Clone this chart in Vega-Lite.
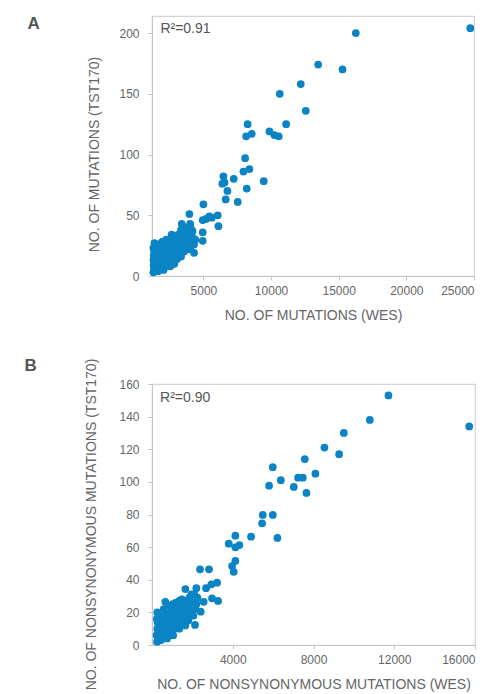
{
  "$schema": "https://vega.github.io/schema/vega-lite/v6.json",
  "background": "white",
  "padding": {"left": 23, "top": 14, "right": 5, "bottom": 0},
  "spacing": 33,
  "config": {
    "view": {"stroke": "#d4d4d4", "strokeWidth": 1.2},
    "font": "Liberation Sans",
    "axis": {
      "grid": false,
      "domainColor": "#c4c4c4",
      "tickColor": "#c4c4c4",
      "tickSize": 4,
      "labelColor": "#666666",
      "labelFontSize": 12,
      "labelFont": "Liberation Sans",
      "titleColor": "#666666",
      "titleFontSize": 14,
      "titleFontWeight": "normal",
      "titleFont": "Liberation Sans"
    }
  },
  "datasets": {
    "a": [
      {"wes": 24725, "tst": 204}, {"wes": 16265, "tst": 200}, {"wes": 13483, "tst": 174}, {"wes": 15280, "tst": 170},
      {"wes": 12196, "tst": 158}, {"wes": 10643, "tst": 150}, {"wes": 12566, "tst": 136}, {"wes": 8268, "tst": 125},
      {"wes": 11116, "tst": 125}, {"wes": 8157, "tst": 115}, {"wes": 8572, "tst": 117}, {"wes": 9881, "tst": 119},
      {"wes": 10251, "tst": 116}, {"wes": 10569, "tst": 115}, {"wes": 8083, "tst": 97}, {"wes": 8402, "tst": 88},
      {"wes": 7958, "tst": 86}, {"wes": 6479, "tst": 82}, {"wes": 6400, "tst": 76}, {"wes": 6560, "tst": 77},
      {"wes": 7241, "tst": 80}, {"wes": 9459, "tst": 78}, {"wes": 6775, "tst": 70}, {"wes": 8201, "tst": 72},
      {"wes": 6649, "tst": 63}, {"wes": 7536, "tst": 61}, {"wes": 5000, "tst": 59}, {"wes": 3964, "tst": 51},
      {"wes": 6057, "tst": 50}, {"wes": 5443, "tst": 49}, {"wes": 4948, "tst": 46}, {"wes": 5197, "tst": 47},
      {"wes": 5615, "tst": 48}, {"wes": 3395, "tst": 43}, {"wes": 4016, "tst": 43}, {"wes": 6109, "tst": 41},
      {"wes": 4948, "tst": 36}, {"wes": 4948, "tst": 29}, {"wes": 4310, "tst": 19}, {"wes": 3350, "tst": 16},
      {"wes": 1300, "tst": 3}, {"wes": 1350, "tst": 6}, {"wes": 1320, "tst": 9}, {"wes": 1400, "tst": 11},
      {"wes": 1310, "tst": 13}, {"wes": 1380, "tst": 15}, {"wes": 1330, "tst": 17}, {"wes": 1420, "tst": 19},
      {"wes": 1350, "tst": 21}, {"wes": 1300, "tst": 23}, {"wes": 1450, "tst": 25}, {"wes": 1380, "tst": 27},
      {"wes": 1500, "tst": 5}, {"wes": 1550, "tst": 8}, {"wes": 1480, "tst": 12}, {"wes": 1560, "tst": 16},
      {"wes": 1500, "tst": 20}, {"wes": 1580, "tst": 23}, {"wes": 1450, "tst": 4}, {"wes": 1600, "tst": 26},
      {"wes": 1650, "tst": 4}, {"wes": 1700, "tst": 7}, {"wes": 1750, "tst": 10}, {"wes": 1680, "tst": 13},
      {"wes": 1800, "tst": 15}, {"wes": 1720, "tst": 18}, {"wes": 1850, "tst": 20}, {"wes": 1780, "tst": 22},
      {"wes": 1900, "tst": 24}, {"wes": 1820, "tst": 26}, {"wes": 1950, "tst": 28}, {"wes": 1880, "tst": 12},
      {"wes": 1960, "tst": 17}, {"wes": 1700, "tst": 25}, {"wes": 1650, "tst": 21}, {"wes": 1900, "tst": 8},
      {"wes": 2050, "tst": 5}, {"wes": 2100, "tst": 9}, {"wes": 2150, "tst": 12}, {"wes": 2250, "tst": 14},
      {"wes": 2100, "tst": 17}, {"wes": 2300, "tst": 19}, {"wes": 2200, "tst": 21}, {"wes": 2400, "tst": 23},
      {"wes": 2050, "tst": 24}, {"wes": 2350, "tst": 26}, {"wes": 2450, "tst": 28}, {"wes": 2250, "tst": 30},
      {"wes": 2400, "tst": 10}, {"wes": 2150, "tst": 27}, {"wes": 2300, "tst": 8}, {"wes": 2480, "tst": 17},
      {"wes": 2000, "tst": 15}, {"wes": 2550, "tst": 8}, {"wes": 2650, "tst": 12}, {"wes": 2600, "tst": 15},
      {"wes": 2750, "tst": 18}, {"wes": 2700, "tst": 21}, {"wes": 2850, "tst": 23}, {"wes": 2600, "tst": 25},
      {"wes": 2900, "tst": 27}, {"wes": 2750, "tst": 29}, {"wes": 2950, "tst": 31}, {"wes": 2800, "tst": 33},
      {"wes": 2650, "tst": 34}, {"wes": 2900, "tst": 19}, {"wes": 2550, "tst": 22}, {"wes": 2950, "tst": 14},
      {"wes": 2850, "tst": 10}, {"wes": 3050, "tst": 14}, {"wes": 3150, "tst": 17}, {"wes": 3100, "tst": 21},
      {"wes": 3250, "tst": 24}, {"wes": 3200, "tst": 27}, {"wes": 3400, "tst": 29}, {"wes": 3050, "tst": 30},
      {"wes": 3300, "tst": 32}, {"wes": 3150, "tst": 34}, {"wes": 3450, "tst": 36}, {"wes": 3350, "tst": 38},
      {"wes": 3250, "tst": 20}, {"wes": 3450, "tst": 25}, {"wes": 3000, "tst": 25}, {"wes": 3550, "tst": 20},
      {"wes": 3650, "tst": 23}, {"wes": 3750, "tst": 27}, {"wes": 3600, "tst": 30}, {"wes": 3850, "tst": 32},
      {"wes": 3700, "tst": 34}, {"wes": 3900, "tst": 37}, {"wes": 3550, "tst": 36}, {"wes": 3800, "tst": 39},
      {"wes": 3950, "tst": 28}, {"wes": 3650, "tst": 40}, {"wes": 3900, "tst": 22}, {"wes": 4050, "tst": 24},
      {"wes": 4150, "tst": 28}, {"wes": 4250, "tst": 31}, {"wes": 4100, "tst": 34}, {"wes": 4300, "tst": 26},
      {"wes": 4200, "tst": 37}, {"wes": 4400, "tst": 30}, {"wes": 4050, "tst": 40}
    ],
    "b": [
      {"wes": 11714, "tst": 153}, {"wes": 10791, "tst": 138}, {"wes": 15714, "tst": 134}, {"wes": 9502, "tst": 130},
      {"wes": 8542, "tst": 121}, {"wes": 9270, "tst": 117}, {"wes": 7569, "tst": 114}, {"wes": 5983, "tst": 109},
      {"wes": 8096, "tst": 105}, {"wes": 6380, "tst": 101}, {"wes": 7237, "tst": 102.6}, {"wes": 7470, "tst": 102.6},
      {"wes": 5800, "tst": 97.7}, {"wes": 7024, "tst": 96.9}, {"wes": 7649, "tst": 93.2}, {"wes": 5487, "tst": 79.7},
      {"wes": 5983, "tst": 79.7}, {"wes": 5453, "tst": 74.6}, {"wes": 4907, "tst": 66.4}, {"wes": 6212, "tst": 65.6},
      {"wes": 4130, "tst": 67}, {"wes": 3801, "tst": 62.1}, {"wes": 4130, "tst": 59.9}, {"wes": 4328, "tst": 61.3},
      {"wes": 4130, "tst": 51.5}, {"wes": 3966, "tst": 48.4}, {"wes": 4048, "tst": 44.9}, {"wes": 2379, "tst": 46.4},
      {"wes": 2825, "tst": 46.4}, {"wes": 3222, "tst": 38.2}, {"wes": 2941, "tst": 37.2}, {"wes": 2677, "tst": 34.8},
      {"wes": 2197, "tst": 34.8}, {"wes": 3272, "tst": 27}, {"wes": 2974, "tst": 28.6}, {"wes": 2561, "tst": 26.5},
      {"wes": 2412, "tst": 20.4}, {"wes": 2131, "tst": 12.3}, {"wes": 1652, "tst": 34.3}, {"wes": 661, "tst": 26.5},
      {"wes": 250, "tst": 2}, {"wes": 300, "tst": 4}, {"wes": 230, "tst": 6}, {"wes": 320, "tst": 8},
      {"wes": 260, "tst": 10}, {"wes": 350, "tst": 12}, {"wes": 280, "tst": 14}, {"wes": 240, "tst": 16},
      {"wes": 330, "tst": 18}, {"wes": 260, "tst": 20}, {"wes": 380, "tst": 3}, {"wes": 400, "tst": 9},
      {"wes": 420, "tst": 15}, {"wes": 450, "tst": 3}, {"wes": 500, "tst": 6}, {"wes": 550, "tst": 9},
      {"wes": 480, "tst": 12}, {"wes": 600, "tst": 14}, {"wes": 520, "tst": 17}, {"wes": 650, "tst": 19},
      {"wes": 580, "tst": 22}, {"wes": 700, "tst": 5}, {"wes": 620, "tst": 11}, {"wes": 750, "tst": 4},
      {"wes": 800, "tst": 8}, {"wes": 850, "tst": 11}, {"wes": 780, "tst": 14}, {"wes": 900, "tst": 16},
      {"wes": 820, "tst": 19}, {"wes": 950, "tst": 21}, {"wes": 880, "tst": 24}, {"wes": 980, "tst": 7},
      {"wes": 920, "tst": 13}, {"wes": 1050, "tst": 6}, {"wes": 1100, "tst": 10}, {"wes": 1150, "tst": 13},
      {"wes": 1050, "tst": 16}, {"wes": 1200, "tst": 18}, {"wes": 1120, "tst": 21}, {"wes": 1250, "tst": 23},
      {"wes": 1180, "tst": 26}, {"wes": 1280, "tst": 15}, {"wes": 1020, "tst": 25}, {"wes": 1350, "tst": 10},
      {"wes": 1400, "tst": 13}, {"wes": 1450, "tst": 16}, {"wes": 1380, "tst": 19}, {"wes": 1500, "tst": 21},
      {"wes": 1420, "tst": 24}, {"wes": 1550, "tst": 26}, {"wes": 1480, "tst": 28}, {"wes": 1580, "tst": 18},
      {"wes": 1350, "tst": 27}, {"wes": 1650, "tst": 12}, {"wes": 1700, "tst": 16}, {"wes": 1750, "tst": 19},
      {"wes": 1680, "tst": 22}, {"wes": 1800, "tst": 24}, {"wes": 1720, "tst": 27}, {"wes": 1850, "tst": 29},
      {"wes": 1950, "tst": 31}, {"wes": 1900, "tst": 21}, {"wes": 1800, "tst": 15}, {"wes": 2000, "tst": 26},
      {"wes": 2050, "tst": 18}, {"wes": 2150, "tst": 22}, {"wes": 2250, "tst": 29}, {"wes": 2100, "tst": 31},
      {"wes": 2200, "tst": 25}
    ]
  },
  "vconcat": [
    {
      "width": 322,
      "height": 260,
      "layer": [
        {
          "data": {"name": "a"},
          "mark": {"type": "circle", "size": 60, "opacity": 1, "color": "#0b84c5"},
          "encoding": {
            "x": {"field": "wes", "type": "quantitative", "title": "NO. OF MUTATIONS (WES)",
                  "scale": {"domain": [1200, 25000], "nice": false, "zero": false},
                  "axis": {"values": [5000, 10000, 15000, 20000, 25000], "tickCount": 10, "labelPadding": 5, "titlePadding": 12, "format": "d", "labelOverlap": false}},
            "y": {"field": "tst", "type": "quantitative", "title": "NO. OF MUTATIONS (TST170)",
                  "scale": {"domain": [0, 214], "nice": false},
                  "axis": {"values": [0, 50, 100, 150, 200], "tickCount": 10, "labelPadding": 9, "titlePadding": 17, "titleY": 138, "labelOverlap": false}}
          }
        },
        {
          "data": {"values": [{"wes": 1820, "tst": 203.5, "label": "R²=0.91"}]},
          "mark": {"type": "text", "align": "left", "baseline": "middle", "fontSize": 14, "color": "#555555", "font": "Liberation Sans"},
          "encoding": {
            "x": {"field": "wes", "type": "quantitative"},
            "y": {"field": "tst", "type": "quantitative"},
            "text": {"field": "label"}
          }
        },
        {
          "data": {"values": [{"wes": -7551, "tst": 203.3, "label": "A"}]},
          "mark": {"type": "text", "align": "center", "baseline": "alphabetic", "fontSize": 17, "fontWeight": "bold", "color": "#555555", "font": "Liberation Sans"},
          "encoding": {
            "x": {"field": "wes", "type": "quantitative"},
            "y": {"field": "tst", "type": "quantitative"},
            "text": {"field": "label"}
          }
        }
      ]
    },
    {
      "width": 323,
      "height": 261,
      "layer": [
        {
          "data": {"name": "b"},
          "mark": {"type": "circle", "size": 60, "opacity": 1, "color": "#0b84c5"},
          "encoding": {
            "x": {"field": "wes", "type": "quantitative", "title": "NO. OF NONSYNONYMOUS MUTATIONS (WES)",
                  "scale": {"domain": [0, 16000], "nice": false},
                  "axis": {"values": [4000, 8000, 12000, 16000], "tickCount": 10, "labelPadding": 5, "titlePadding": 12, "format": "d", "labelOverlap": false}},
            "y": {"field": "tst", "type": "quantitative", "title": "NO. OF NONSYNONYMOUS MUTATIONS (TST170)",
                  "scale": {"domain": [0, 160], "nice": false},
                  "axis": {"values": [0, 20, 40, 60, 80, 100, 120, 140, 160], "tickCount": 10, "labelPadding": 9, "titlePadding": 20, "titleY": 140, "labelOverlap": false}}
          }
        },
        {
          "data": {"values": [{"wes": 400, "tst": 151.4, "label": "R²=0.90"}]},
          "mark": {"type": "text", "align": "left", "baseline": "middle", "fontSize": 14, "color": "#555555", "font": "Liberation Sans"},
          "encoding": {
            "x": {"field": "wes", "type": "quantitative"},
            "y": {"field": "tst", "type": "quantitative"},
            "text": {"field": "label"}
          }
        },
        {
          "data": {"values": [{"wes": -6008, "tst": 168.1, "label": "B"}]},
          "mark": {"type": "text", "align": "center", "baseline": "alphabetic", "fontSize": 17, "fontWeight": "bold", "color": "#555555", "font": "Liberation Sans"},
          "encoding": {
            "x": {"field": "wes", "type": "quantitative"},
            "y": {"field": "tst", "type": "quantitative"},
            "text": {"field": "label"}
          }
        }
      ]
    }
  ]
}
